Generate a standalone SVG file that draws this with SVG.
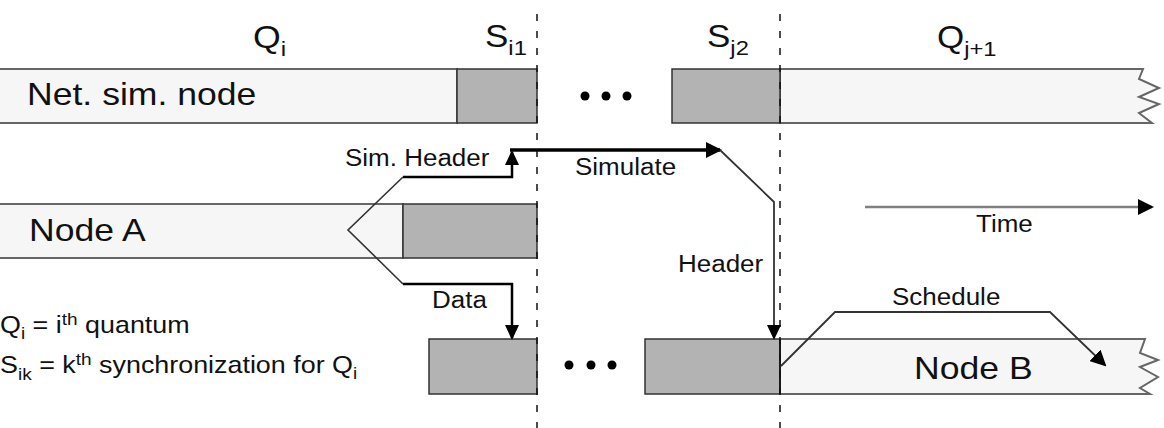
<svg xmlns="http://www.w3.org/2000/svg" width="1164" height="428" viewBox="0 0 1164 428">
<style>
.bar{fill:#f6f6f6;stroke:#666;stroke-width:2}
.dark{fill:#b3b3b3;stroke:#333;stroke-width:1.5}
.dash{stroke:#111;stroke-width:1.5;stroke-dasharray:7 10;fill:none}
.t{font-family:"Liberation Sans",Arial,sans-serif;fill:#111}
.big{font-size:31.5px}
.lab{font-size:23px}
.top{font-size:31px}
.leg{font-size:24px}
.dot{fill:#000}
.ln{fill:none;stroke-linejoin:miter}
</style>
<defs>
<marker id="arr" markerUnits="userSpaceOnUse" viewBox="0 0 15 14" markerWidth="15" markerHeight="14" refX="13" refY="7" orient="auto">
<path d="M0,0 L15,7 L0,14 Z" fill="#000"/>
</marker>
<marker id="arrT" markerUnits="userSpaceOnUse" viewBox="0 0 16 16" markerWidth="16" markerHeight="16" refX="14" refY="8" orient="auto">
<path d="M0,0 L16,8 L0,16 Z" fill="#000"/>
</marker>
</defs>
<rect width="1164" height="428" fill="#fff"/>

<g id="netsim">
<rect class="bar" x="-3" y="69" width="460" height="54"/>
<rect class="dark" x="457" y="69" width="80" height="54"/>
<path class="bar" d="M780,69 H1143 L1139,79 L1159,88 L1139,97 L1159,104 L1139,113 L1152,123 H780 Z"/>
<rect class="dark" x="672" y="69" width="108" height="54"/>
<text class="t big" transform="translate(27,105) scale(1.13,1)">Net. sim. node</text>
<circle class="dot" cx="585" cy="96" r="4.5"/>
<circle class="dot" cx="606" cy="96" r="4.5"/>
<circle class="dot" cx="627" cy="96" r="4.5"/>
</g>

<g id="nodeA">
<rect class="bar" x="-3" y="204" width="406" height="54"/>
<rect class="dark" x="403" y="204" width="134" height="54"/>
<text class="t big" transform="translate(29,241) scale(1.13,1)">Node A</text>
</g>

<g id="nodeB">
<rect class="dark" x="429" y="339" width="108" height="55"/>
<circle class="dot" cx="569" cy="365" r="4.5"/>
<circle class="dot" cx="591" cy="365" r="4.5"/>
<circle class="dot" cx="612" cy="365" r="4.5"/>
<rect class="dark" x="645" y="339" width="135" height="55"/>
<path class="bar" d="M780,339 H1145 L1140,353 L1158,360 L1140,367 L1158,377 L1140,388 L1150,394 H780 Z"/>
<line x1="780" y1="339" x2="780" y2="394" stroke="#111" stroke-width="1.8"/>
<text class="t big" transform="translate(914,379) scale(1.13,1)">Node B</text>
</g>

<g id="guides">
<line class="dash" x1="537" y1="14" x2="537" y2="428"/>
<line class="dash" x1="780" y1="14" x2="780" y2="428"/>
</g>

<g id="labels">
<text class="t top" transform="translate(253,48) scale(1.15,1)">Q<tspan font-size="21" dy="8">i</tspan></text>
<text class="t top" transform="translate(485,47) scale(1.13,1)">S<tspan font-size="21" dy="8">i1</tspan></text>
<text class="t top" transform="translate(707,47) scale(1.13,1)">S<tspan font-size="21" dy="8">j2</tspan></text>
<text class="t top" transform="translate(937,48) scale(1.13,1)">Q<tspan font-size="21" dy="8">j+1</tspan></text>
<text class="t leg" transform="translate(0,333) scale(1.12,1)">Q<tspan font-size="17" dy="6">i</tspan><tspan dy="-6"> = i</tspan><tspan font-size="17" dy="-8">th</tspan><tspan dy="8"> quantum</tspan></text>
<text class="t leg" transform="translate(0,373) scale(1.12,1)">S<tspan font-size="17" dy="7">ik</tspan><tspan dy="-7"> = k</tspan><tspan font-size="17" dy="-8">th</tspan><tspan dy="8"> synchronization for Q</tspan><tspan font-size="17" dy="6">i</tspan></text>
</g>

<g id="connectors">
<path class="ln" d="M403,177 L348,230 L403,284" stroke="#333" stroke-width="1.6"/>
<path class="ln" d="M403,177 H512 V152" stroke="#000" stroke-width="2.5" marker-end="url(#arr)"/>
<path class="ln" d="M510,150 H720" stroke="#000" stroke-width="3.5" marker-end="url(#arrT)"/>
<path class="ln" d="M720,150 L774,202 V338" stroke="#333" stroke-width="1.8" marker-end="url(#arr)"/>
<path class="ln" d="M403,284 H512 V338" stroke="#000" stroke-width="2.5" marker-end="url(#arr)"/>
<path class="ln" d="M781,366 L835,312 H1050 L1105,365" stroke="#333" stroke-width="1.8" marker-end="url(#arrT)"/>
<path class="ln" d="M865,207 H1152" stroke="#808080" stroke-width="2.5" marker-end="url(#arrT)"/>
<text class="t lab" transform="translate(345,166) scale(1.13,1)">Sim. Header</text>
<text class="t lab" transform="translate(575,175) scale(1.13,1)">Simulate</text>
<text class="t lab" transform="translate(678,272) scale(1.13,1)">Header</text>
<text class="t lab" transform="translate(432,308) scale(1.13,1)">Data</text>
<text class="t lab" transform="translate(892,305) scale(1.13,1)">Schedule</text>
<text class="t lab" transform="translate(976,232) scale(1.13,1)">Time</text>
</g>
</svg>
